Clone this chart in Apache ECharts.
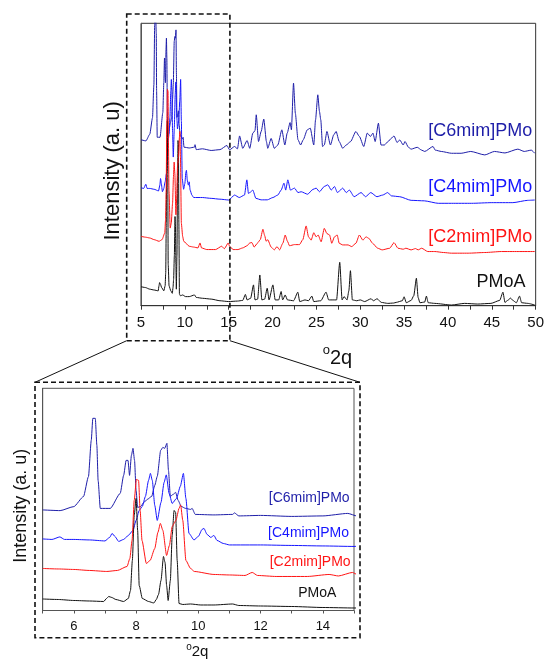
<!DOCTYPE html>
<html>
<head>
<meta charset="utf-8">
<script src="https://cdn.jsdelivr.net/npm/echarts@6/dist/echarts.min.js"></script>
<style>
  html, body { margin: 0; padding: 0; background: #fff; }
  #chart { width: 547px; height: 661px; }
</style>
</head>
<body>
<div id="chart"></div>
<script>
// [2theta, intensity] (stacked, arbitrary units)
const c6mimPMo = [
  [5.0,100.5],[5.56,99.8],[6.0,103.8],[6.31,113.8],[6.47,133.8],[6.56,170],[6.61,192],[6.69,192],
  [6.74,165],[6.78,130],[6.85,102],[7.17,102],[7.49,117],[7.6,135],[7.68,150],[7.74,150],[7.79,135],
  [7.85,155],[7.9,162],[7.95,150],[8.0,120],[8.05,103],[8.15,104],[8.25,108],[8.36,111],[8.5,114],
  [8.6,125],[8.68,134],[8.79,160],[8.86,163],[8.92,162],[8.99,167],[9.04,140],[9.1,114],[9.19,116],
  [9.27,118],[9.35,110],[9.45,104],[9.59,102],[9.75,101],[9.8,102],[9.9,96],[10.5,95.5],[11.1,96],
  [11.16,97.5],[11.3,94.5],[12.0,95],[13.0,94],[14.0,94.5],[14.8,97],[15.1,94.4],[15.67,96.4],
  [16.0,95],[16.24,102.8],[16.6,95.3],[17.1,100],[17.4,95.3],[17.75,104.5],[18.0,106],[18.14,115.6],
  [18.4,99.4],[18.7,105.5],[19.0,113],[19.3,99.4],[19.45,95.3],[19.84,101.3],[20.2,95.3],[20.6,97.3],
  [21.06,106.5],[21.4,97.3],[21.67,104.5],[22.0,110.9],[22.15,106.5],[22.39,134.8],[22.6,116.5],
  [22.9,100.5],[23.2,97.3],[23.5,100.5],[23.96,106.5],[24.3,107.5],[24.7,97.3],[24.9,112.5],
  [25.16,127.7],[25.35,117.6],[25.5,112.5],[25.7,96.4],[25.9,97.3],[26.2,105.5],[26.6,97.3],
  [26.98,103.5],[27.25,105.5],[27.6,99.4],[28.0,95.3],[28.4,97.3],[28.9,99.4],[29.5,105.5],
  [29.9,102.5],[30.4,96.4],[30.8,104.5],[31.16,102.5],[31.45,104.5],[31.7,99.4],[32.07,110.5],
  [32.37,97.3],[32.75,97.3],[33.17,99.4],[33.55,101.4],[33.85,102.8],[34.2,98.8],[34.5,100.4],
  [34.9,97.3],[35.1,99.4],[35.5,95.9],[35.8,94.8],[36.5,95.9],[37.0,94.2],[37.35,93.4],[38.3,96.4],
  [38.55,94.2],[39.24,93.4],[40.4,92.3],[41.5,92.3],[42.6,93.4],[44.2,91.3],[45.3,93.4],[46.5,92.5],
  [47.97,94.8],[48.7,93.4],[49.5,94.2],[49.9,92.3]
];
const c4mimPMo = [
  [5.0,71.5],[5.3,71],[5.55,73.5],[5.7,71],[6.0,71],[6.5,70.5],[7.0,69.5],[7.15,73],[7.23,77],
  [7.32,74],[7.44,69],[7.6,71],[7.75,75],[7.9,80],[8.0,90],[8.1,100],[8.2,104],[8.3,114],[8.4,130],
  [8.46,137],[8.52,130],[8.6,105],[8.68,90],[8.8,108],[8.9,128],[8.97,135.5],[9.06,117],[9.16,107],
  [9.3,112],[9.42,124],[9.52,137],[9.6,112],[9.7,77],[9.86,70.5],[10.0,74],[10.12,81],[10.18,82],
  [10.28,76],[10.4,73],[10.5,75],[10.6,70],[10.8,67],[11.0,65.5],[12.0,65.5],[13.0,65],[14.0,64.5],
  [15.0,64],[15.67,67],[16.2,65.5],[16.8,67],[17.07,76.2],[17.25,68],[17.4,68.5],[17.75,70],
  [18.1,65],[18.7,64.1],[19.4,64.1],[20.04,65.5],[20.6,67],[20.98,70],[21.3,74.2],[21.5,70],
  [21.74,76.2],[22.04,70],[22.5,71.2],[22.9,68.5],[23.26,69],[24.0,67.5],[24.6,70.4],[24.97,71.2],
  [25.35,69],[25.9,72.2],[26.3,73.2],[26.7,70],[27.06,72.2],[27.4,68.5],[28.0,71.2],[28.4,68.5],
  [28.76,70],[29.3,66],[30.1,68.5],[30.6,66],[31.2,68.5],[31.9,66],[32.56,67],[33.13,68.5],
  [33.55,66.5],[34.5,66],[35.8,63.8],[37.3,63.5],[38.9,62],[40.4,62],[42.7,62],[45.0,62.4],
  [47.4,62.4],[49.1,63.8],[49.9,64]
];
const c2mimPMo = [
  [5.0,42],[5.5,41.5],[6.0,41],[6.5,40],[7.06,39],[7.4,40],[7.71,44],[7.8,52],[7.87,70],[7.94,110],
  [8.01,131],[8.08,130],[8.13,100],[8.19,70],[8.33,47],[8.45,50],[8.6,62],[8.7,78],[8.78,87],
  [8.86,80],[8.98,55],[9.07,65],[9.16,84],[9.28,90],[9.38,102],[9.43,105.5],[9.5,90],[9.6,50],
  [9.75,42],[9.87,39],[10.5,36],[11.0,35.5],[11.5,35],[11.73,38],[11.9,35],[12.5,34],[13.5,34],
  [14.2,36],[14.5,34.5],[14.95,38],[15.1,36],[15.5,34],[16.05,34],[16.6,35],[17.1,36.3],[17.4,38],
  [17.65,38.2],[17.9,35.5],[18.3,38],[18.6,40],[18.9,46.3],[19.1,42.5],[19.27,39],[19.45,40],
  [19.84,35.5],[20.2,33.8],[20.5,35.8],[20.8,33.8],[21.17,37.8],[21.44,42.8],[21.7,39],[21.93,36.3],
  [22.5,37],[23.07,37],[23.45,40],[23.83,48.3],[24.1,41.7],[24.4,39.7],[24.7,44.2],[24.97,41.7],
  [25.2,42.8],[25.54,38.7],[25.9,46.8],[26.2,43.7],[26.5,42.8],[26.75,37.8],[27.06,41.7],
  [27.37,42.8],[27.6,37.8],[28.0,36.8],[28.6,36.8],[29.03,35.8],[29.5,37.8],[29.9,42.8],[30.3,39.7],
  [30.66,41.7],[31.0,40.7],[31.4,37.8],[31.99,34.8],[32.5,33.8],[33.36,34.8],[33.85,38.2],
  [34.3,34.8],[34.9,34.2],[35.2,34.8],[35.8,33.8],[36.3,34.6],[36.6,33.8],[37.0,34.8],[37.7,32.8],
  [38.5,32.8],[39.5,32.2],[40.4,31.8],[42.3,31.8],[44.2,32.2],[46.1,32.8],[48.0,32.8],[49.9,32.8]
];
const pmoa = [
  [5.0,11.5],[5.5,11],[6.0,10],[6.5,9.5],[6.96,9],[7.05,12],[7.12,14],[7.22,13],[7.35,11],[7.6,9],
  [7.75,12],[7.82,20],[7.88,50],[7.94,95],[8.0,112],[8.05,80],[8.1,25],[8.2,12],[8.4,9],[8.57,7.5],
  [8.65,11],[8.72,16],[8.8,30],[8.88,54],[8.93,48],[8.98,25],[9.03,10],[9.1,30],[9.16,75],[9.22,100],
  [9.27,98],[9.32,50],[9.38,7],[9.5,6],[9.75,6.5],[10.08,5.5],[10.5,5.5],[11.1,6.5],[11.3,5],
  [12.0,4.5],[13.0,4],[14.0,3],[15.0,2.5],[16.0,2.8],[16.6,3.2],[16.9,6.8],[17.1,3.5],[17.5,4.5],
  [17.83,12.6],[18.0,3.5],[18.3,4],[18.55,18.6],[18.78,3.5],[19.1,4],[19.39,10.6],[19.6,3.5],
  [20.04,12.6],[20.3,3.5],[20.7,3.5],[20.98,8.6],[21.15,3.5],[21.44,6.5],[21.7,3.5],[22.4,3],
  [22.88,8.2],[23.1,2.5],[23.7,3.5],[24.1,3],[24.48,5.8],[24.7,2.5],[25.5,3],[26.1,8.2],[26.4,3.5],
  [26.9,3.5],[27.3,3.5],[27.66,26.3],[27.93,3.5],[28.15,5.5],[28.5,3.5],[28.7,9],[28.88,21.2],
  [29.1,3.5],[29.6,3],[30.0,3.5],[30.5,2.5],[31.23,4.2],[31.5,3],[31.92,4.2],[32.4,2],[33.13,1.4],
  [33.8,1.6],[34.1,2],[34.8,3],[35.0,5.4],[35.25,1.8],[35.8,3.2],[36.1,6],[36.4,16.6],[36.6,5],
  [36.8,1.8],[37.35,2.2],[37.54,5.8],[37.75,1.8],[38.5,1.4],[40.4,0.4],[41.9,1.4],[43.4,1],
  [44.9,1.4],[45.9,3.2],[46.27,8.2],[46.5,2],[46.8,3.2],[47.14,4.6],[47.4,3.2],[47.8,1.8],
  [48.16,5.8],[48.4,1.8],[49.1,1.4],[49.9,0.4]
];

const sampleNames = ['[C6mim]PMo', '[C4mim]PMo', '[C2mim]PMo', 'PMoA'];
const sampleData = [c6mimPMo, c4mimPMo, c2mimPMo, pmoa];
const sampleColors = ['#1e1ea8', '#1515ff', '#ff1414', '#111111'];

// where each name sits (right edge, in 2theta / intensity units)
const topLabelAt = [[49.6, 106], [49.6, 71.6], [49.6, 41.3], [48.85, 14.5]];
const zoomLabelAt = [[14.86, 112.2], [14.84, 77.2], [14.89, 48.2], [14.43, 17.8]];

const FONT = 'Liberation Sans, Arial, sans-serif';
const chart = echarts.init(document.getElementById('chart'));

const makeSeries = (gridIndex) => sampleData.map((d, i) => ({
  name: sampleNames[i],
  type: 'line',
  xAxisIndex: gridIndex,
  yAxisIndex: gridIndex,
  data: d,
  showSymbol: false,
  smooth: 0.2,
  smoothMonotone: 'x',
  lineStyle: { width: 1, color: sampleColors[i] },
  z: i === 2 ? 4 : 3,
}));

const option = {
  animation: false,
  grid: [
    { left: 141, right: 11, top: 23.3, height: 282.4, show: true, borderColor: '#333', borderWidth: 1 },
    { left: 42.7, right: 193, top: 388.3, height: 222.2, show: true, borderColor: '#555', borderWidth: 1 },
  ],
  xAxis: [
    {
      type: 'value', gridIndex: 0, min: 5, max: 50, interval: 5,
      axisLine: { lineStyle: { color: '#333' } },
      axisTick: { length: 4, lineStyle: { color: '#333' } },
      minorTick: { show: true, splitNumber: 2, length: 4, lineStyle: { color: '#333' } },
      splitLine: { show: false },
      axisLabel: { fontSize: 15, color: '#111', margin: 10, fontFamily: FONT },
    },
    {
      type: 'value', gridIndex: 1, min: 5, max: 15, interval: 1,
      axisLine: { lineStyle: { color: '#555' } },
      axisTick: { length: 3, lineStyle: { color: '#555' } },
      splitLine: { show: false },
      axisLabel: {
        fontSize: 13, color: '#111', margin: 9, fontFamily: FONT,
        formatter: v => (v % 2 === 0 ? String(v) : ''),
      },
    },
  ],
  yAxis: [
    {
      type: 'value', gridIndex: 0, min: 0, max: 171,
      axisLine: { show: true, lineStyle: { color: '#555' } },
      axisTick: { show: false }, axisLabel: { show: false }, splitLine: { show: false },
    },
    {
      type: 'value', gridIndex: 1, min: 0, max: 222,
      axisLine: { show: true, lineStyle: { color: '#555' } },
      axisTick: { show: false }, axisLabel: { show: false }, splitLine: { show: false },
    },
  ],
  series: [...makeSeries(0), ...makeSeries(1)],
};
chart.setOption(option);

// annotations: dashed zoom boxes, connectors, names, axis titles
const px = (gi, p) => chart.convertToPixel({ xAxisIndex: gi, yAxisIndex: gi }, p);
const topL = px(0, [5, 0])[0] - 14.3;
const topR = px(0, [15, 0])[0] + 1.2;
const topT = 14, topB = 340.7;
const botL = px(1, [5, 0])[0] - 7.7;
const botR = px(1, [15, 0])[0] + 6;
const botT = 382.3, botB = 637.7;
const dash = { stroke: '#111', lineWidth: 1.6, lineDash: [5, 3], fill: null };

const graphic = [
  { type: 'rect', shape: { x: topL, y: topT, width: topR - topL, height: topB - topT }, style: dash, z: 10 },
  { type: 'rect', shape: { x: botL, y: botT, width: botR - botL, height: botB - botT }, style: dash, z: 10 },
  { type: 'line', shape: { x1: topL, y1: topB, x2: botL, y2: botT }, style: { stroke: '#111', lineWidth: 1 }, z: 10 },
  { type: 'line', shape: { x1: topR, y1: topB, x2: botR, y2: botT }, style: { stroke: '#111', lineWidth: 1 }, z: 10 },
  // y titles
  { type: 'text', x: 113.3, y: 170.8, rotation: Math.PI / 2,
    style: { text: 'Intensity (a. u)', fontSize: 22, fontFamily: FONT, fill: '#111', align: 'center', verticalAlign: 'middle' } },
  { type: 'text', x: 20.7, y: 505.7, rotation: Math.PI / 2,
    style: { text: 'Intensity (a. u)', fontSize: 18, fontFamily: FONT, fill: '#111', align: 'center', verticalAlign: 'middle' } },
  // x titles
  { type: 'text', x: 330, y: 368.5,
    style: { text: '2q', fontSize: 20, fontFamily: FONT, fill: '#111', align: 'left', verticalAlign: 'bottom' } },
  { type: 'text', x: 330, y: 357,
    style: { text: 'o', fontSize: 13, fontFamily: FONT, fill: '#111', align: 'right', verticalAlign: 'bottom' } },
  { type: 'text', x: 191.7, y: 659,
    style: { text: '2q', fontSize: 15, fontFamily: FONT, fill: '#111', align: 'left', verticalAlign: 'bottom' } },
  { type: 'text', x: 191.7, y: 652,
    style: { text: 'o', fontSize: 10, fontFamily: FONT, fill: '#111', align: 'right', verticalAlign: 'bottom' } },
];

sampleNames.forEach((name, i) => {
  const a = px(0, topLabelAt[i]);
  graphic.push({ type: 'text', x: a[0], y: a[1],
    style: { text: name, fontSize: 18, fontFamily: FONT, fill: sampleColors[i], align: 'right', verticalAlign: 'middle' } });
  const b = px(1, zoomLabelAt[i]);
  graphic.push({ type: 'text', x: b[0], y: b[1],
    style: { text: name, fontSize: 14, fontFamily: FONT, fill: sampleColors[i], align: 'right', verticalAlign: 'middle' } });
});

chart.setOption({ graphic });
</script>
</body>
</html>
